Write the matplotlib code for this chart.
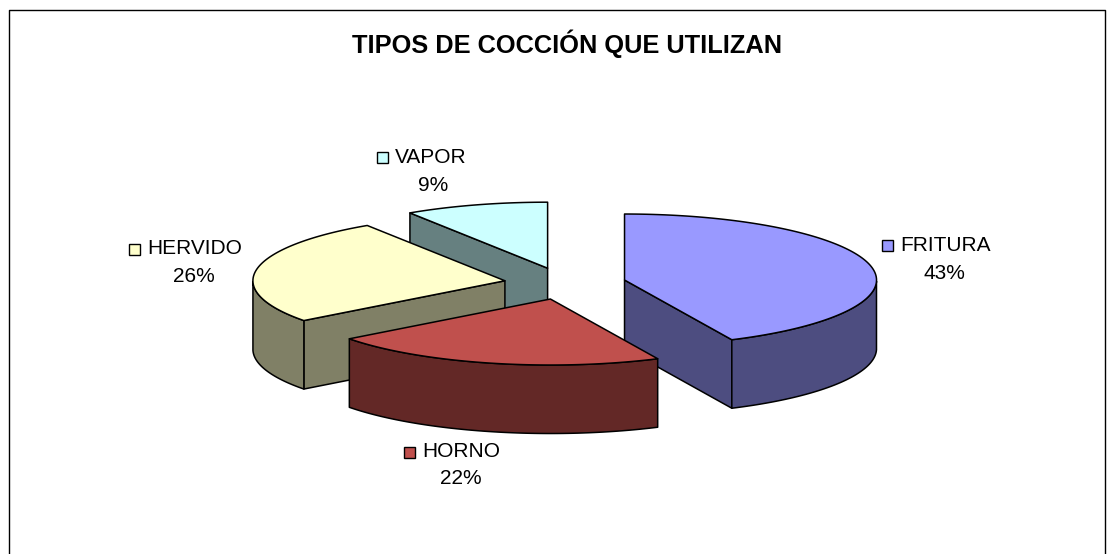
import numpy as np
import matplotlib
matplotlib.use('Agg')
import matplotlib.pyplot as plt

plt.rcParams['font.family'] = ['Liberation Sans', 'DejaVu Sans']

title = 'TIPOS DE COCCIÓN QUE UTILIZAN'
categories = ['FRITURA', 'HORNO', 'HERVIDO', 'VAPOR']
values = [43.0, 21.7, 26.1, 9.2]
top_colors = ['#9999FF', '#C0504D', '#FFFFCC', '#CCFFFF']
side_colors = ['#4D4D80', '#632826', '#808066', '#668080']
# key left, key centre y, name baseline, percent centre x, percent baseline
label_pos = {'FRITURA': (882, 245.5, 251, 944, 279),
             'HORNO': (404, 452, 457, 461, 484),
             'HERVIDO': (129, 249, 254, 194, 282),
             'VAPOR': (377, 157, 163, 433, 191)}

# pie geometry in pixels
cx, cy = 565, 283.5
a, b = 252, 66
depth = 68.5
explode = 61


def rim(t, x0, y0):
    return x0 + a * np.sin(t), y0 - b * np.cos(t)


fig = plt.figure(figsize=(11.15, 5.54), dpi=100)
ax = fig.add_axes([0, 0, 1, 1])
ax.set_xlim(0, 1115)
ax.set_ylim(554, 0)
ax.axis('off')

# chart border, the bottom runs off the picture
ax.plot([8.5, 8.5, 1104.5, 1104.5], [560, 9.5, 9.5, 560], color='black', lw=1)

fractions = np.array(values) / sum(values)
ends = np.cumsum(fractions) * 2 * np.pi
starts = ends - fractions * 2 * np.pi

# back to front, horno overlaps the fritura wall
for i in [3, 2, 0, 1]:
    mid = (starts[i] + ends[i]) / 2
    x0 = cx + explode * np.sin(mid)
    y0 = cy - explode * b / a * np.cos(mid)
    t = np.linspace(starts[i], ends[i], 120)
    xs, ys = rim(t, x0, y0)
    kw = dict(edgecolor='black', lw=1.1, joinstyle='round', clip_on=False)

    # flat walls, only those that face the viewer
    if np.sin(starts[i]) < -1e-6:
        ax.fill([x0, xs[0], xs[0], x0], [y0, ys[0], ys[0] + depth, y0 + depth],
                facecolor=side_colors[i], **kw)
    if np.sin(ends[i]) > 1e-6:
        ax.fill([x0, xs[-1], xs[-1], x0], [y0, ys[-1], ys[-1] + depth, y0 + depth],
                facecolor=side_colors[i], **kw)
    # curved wall, front half only
    front = np.cos(t) <= 0
    if front.any():
        fx, fy = xs[front], ys[front]
        ax.fill(np.r_[fx, fx[::-1]], np.r_[fy, fy[::-1] + depth],
                facecolor=side_colors[i], **kw)
    # top face
    ax.fill(np.r_[x0, xs], np.r_[y0, ys], facecolor=top_colors[i], **kw)

ax.text(567, 53, title, fontsize=18.3, fontweight='bold', ha='center', va='baseline')

for i, name in enumerate(categories):
    kx, ky, y1, px, y2 = label_pos[name]
    ax.fill([kx, kx + 11, kx + 11, kx], [ky - 5.5, ky - 5.5, ky + 5.5, ky + 5.5],
            facecolor=top_colors[i], edgecolor='black', lw=1)
    ax.text(kx + 18, y1, name, fontsize=15, ha='left', va='baseline')
    ax.text(px, y2, f'{values[i]:.0f}%', fontsize=15, ha='center', va='baseline')

fig.savefig('out.png', dpi=100)
